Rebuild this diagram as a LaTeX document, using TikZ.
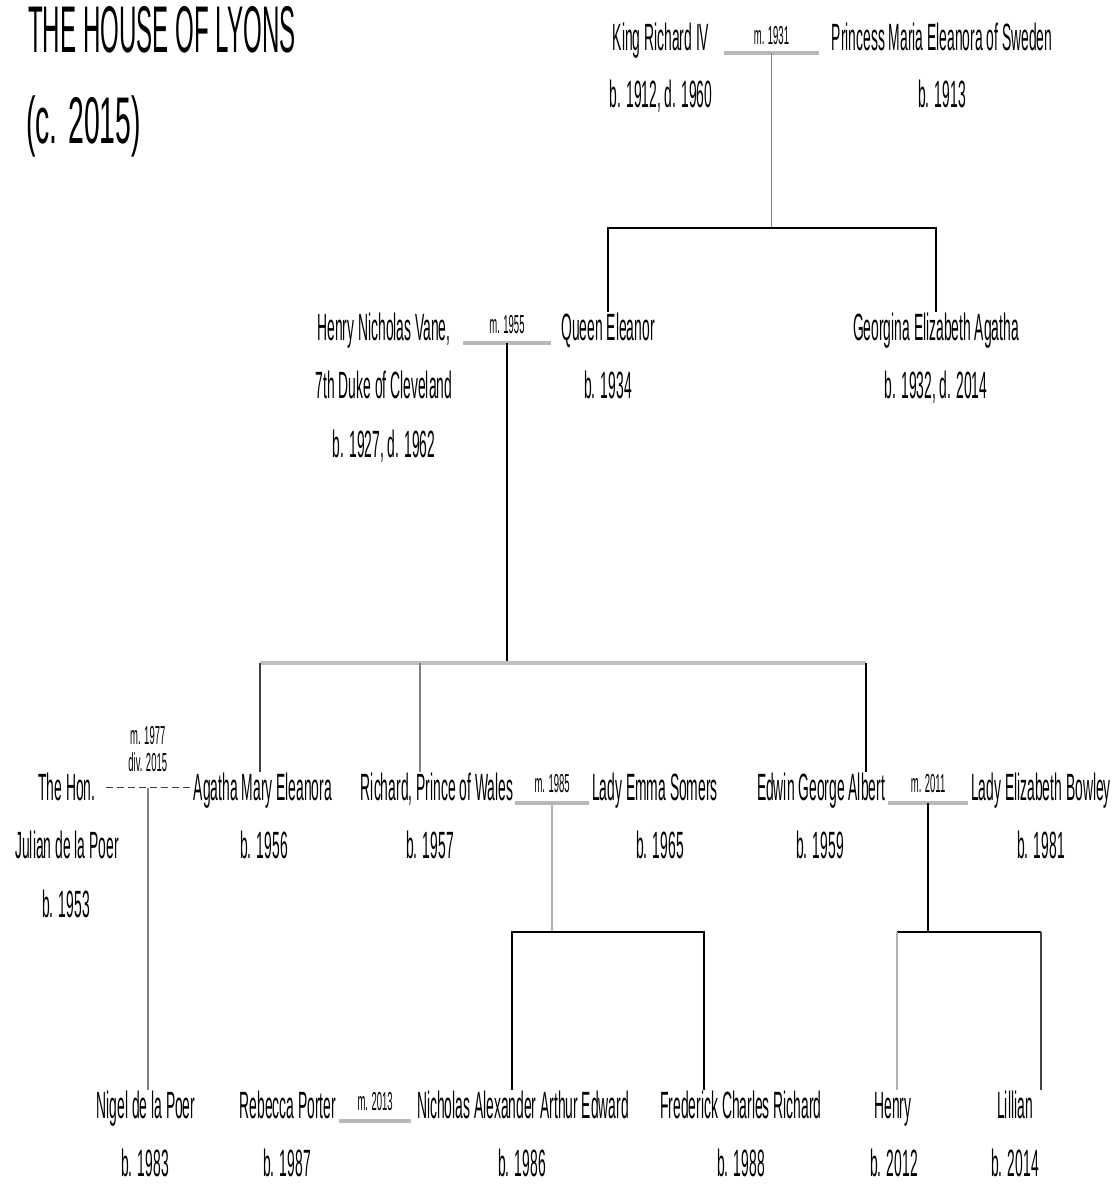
\documentclass[tikz,border=0pt]{standalone}
\usepackage{fontspec}
\newfontfamily\cf[FakeStretch=0.365]{Liberation Sans}
\newfontfamily\cfw[FakeStretch=0.43]{Liberation Sans}
\usetikzlibrary{calc}
\begin{document}
\begin{tikzpicture}[x=1pt,y=-1pt,
  person/.style={font=\cf\fontsize{38}{40}\selectfont, inner xsep=0pt, inner ysep=0pt, text height=28pt, text depth=3pt, anchor=base},
  titletext/.style={font=\cf\fontsize{66}{70}\selectfont, inner sep=0pt, anchor=base west},
  mlabel/.style={font=\cf\fontsize{26}{28}\selectfont, inner sep=0pt, anchor=base},
  marriage/.style={draw=black!28, line width=3.5pt},
  divorce/.style={draw=black!75, line width=1.5pt, dash pattern=on 7pt off 4pt},
  kin/.style={draw=black, line width=2pt},
  kingray/.style={draw=black!50, line width=1.8pt},
  kinlight/.style={draw=black!30, line width=2pt},
  sibbar/.style={draw=black!25, line width=4pt},
]
\useasboundingbox[fill=white] (0,0) rectangle (1117,1184);

% title
\node[titletext] (t1) at (28,52) {THE HOUSE OF LYONS};
\node[titletext, font=\cfw\fontsize{66}{70}\selectfont] (t2) at (26,143) {(c. 2015)};

% generation 1
\node[person] (king) at (661,50) {King Richard IV};
\node[person] (kingd) at (661,107) {b. 1912, d. 1960};
\node[person] (maria) at (942,50) {Princess Maria Eleanora of Sweden};
\node[person] (mariad) at (942,107) {b. 1913};
\draw[marriage] ([xshift=15pt]king.south east) -- coordinate (m1) ([xshift=-13pt]maria.south west);
\node[mlabel] (l1) at ([yshift=9pt]m1) {m. 1931};

% generation 2
\node[person] (henry) at (384,340) {Henry Nicholas Vane,};
\node[person] (henry2) at (384,398) {7th Duke of Cleveland};
\node[person] (henry3) at (384,457) {b. 1927, d. 1962};
\node[person] (eleanor) at (608,340) {Queen Eleanor};
\node[person] (eleanord) at (608,398) {b. 1934};
\node[person] (georgina) at (936,340) {Georgina Elizabeth Agatha};
\node[person] (georginad) at (936,398) {b. 1932, d. 2014};

\coordinate (b1) at (771,228);
\draw[kingray] (m1) -- (m1 |- b1);
\draw[kin] (eleanor.north) -- (eleanor.north |- b1) -- (georgina.north |- b1) -- (georgina.north);

\draw[marriage] ([xshift=12pt]henry.south east) -- coordinate (m2) ([xshift=-10pt]eleanor.south west);
\node[mlabel] (l2) at ([yshift=10pt]m2) {m. 1955};

% generation 3
\node[person] (hon) at (67,800) {The Hon.};
\node[person] (hon2) at (67,858) {Julian de la Poer};
\node[person] (hon3) at (66,917) {b. 1953};
\node[person] (agatha) at (263,800) {Agatha Mary Eleanora};
\node[person] (agathad) at (264,858) {b. 1956};
\node[person] (richard) at (437,800) {Richard, Prince of Wales};
\node[person] (richardd) at (430,858) {b. 1957};
\node[person] (emma) at (655,800) {Lady Emma Somers};
\node[person] (emmad) at (660,858) {b. 1965};
\node[person] (edwin) at (821,800) {Edwin George Albert};
\node[person] (edwind) at (820,858) {b. 1959};
\node[person] (eliz) at (1041,800) {Lady Elizabeth Bowley};
\node[person] (elizd) at (1041,858) {b. 1981};

\coordinate (b2) at (507,663);
\coordinate (c3a) at (260,663);
\coordinate (c3r) at (420,663);
\coordinate (c3e) at (866,663);
\draw[kin] (m2) -- (m2 |- b2);
\draw[sibbar] (c3a) -- (c3e);
\draw[black!75, line width=1.8pt] (c3a) -- (c3a |- agatha.north);
\draw[kingray] (c3r) -- (c3r |- richard.north);
\draw[kin] (c3e) -- (c3e |- edwin.north);

\draw[divorce] ([xshift=10pt]hon.east) -- coordinate (m3) ([xshift=-4pt]agatha.west);
\node[mlabel] (l3b) at ([yshift=16pt]m3) {div. 2015};
\node[mlabel] (l3a) at ([yshift=43pt]m3) {m. 1977};

\draw[marriage] ([xshift=2pt]richard.south east) -- coordinate (m4) ([xshift=-3pt]emma.south west);
\node[mlabel] (l4) at ([yshift=11pt]m4) {m. 1985};

\draw[marriage] ([xshift=3pt]edwin.south east) -- coordinate (m5) ([xshift=-3pt]eliz.south west);
\node[mlabel] (l5) at ([yshift=11pt]m5) {m. 2011};

% generation 4
\node[person] (nigel) at (146,1118) {Nigel de la Poer};
\node[person] (nigeld) at (145,1176) {b. 1983};
\node[person] (rebecca) at (288,1118) {Rebecca Porter};
\node[person] (rebeccad) at (287,1176) {b. 1987};
\node[person] (nicholas) at (523,1118) {Nicholas Alexander Arthur Edward};
\node[person] (nicholasd) at (522,1176) {b. 1986};
\node[person] (fred) at (741,1118) {Frederick Charles Richard};
\node[person] (fredd) at (741,1176) {b. 1988};
\node[person] (henryj) at (893,1118) {Henry};
\node[person] (henryjd) at (894,1176) {b. 2012};
\node[person] (lillian) at (1015,1118) {Lillian};
\node[person] (lilliand) at (1015,1176) {b. 2014};

\draw[kingray] (m3) -- (m3 |- nigel.north);

\coordinate (b4l) at (512,932);
\coordinate (b4r) at (704,932);
\draw[kinlight] (m4) -- (m4 |- b4l);
\draw[kin] (b4l |- nicholas.north) -- (b4l) -- (b4r) -- (b4r |- fred.north);

\coordinate (b5l) at (897,932);
\coordinate (b5r) at (1041,932);
\draw[kin] (m5) -- (m5 |- b5l);
\draw[kin] (b5l) -- (b5r);
\draw[kinlight] (b5l) -- (b5l |- henryj.north);
\draw[black!75, line width=1.8pt] (b5r) -- (b5r |- lillian.north);

\draw[marriage] ([xshift=3pt]rebecca.south east) -- coordinate (m6) ([xshift=-6pt]nicholas.south west);
\node[mlabel] (l6) at ([yshift=11pt]m6) {m. 2013};
\end{tikzpicture}
\end{document}
